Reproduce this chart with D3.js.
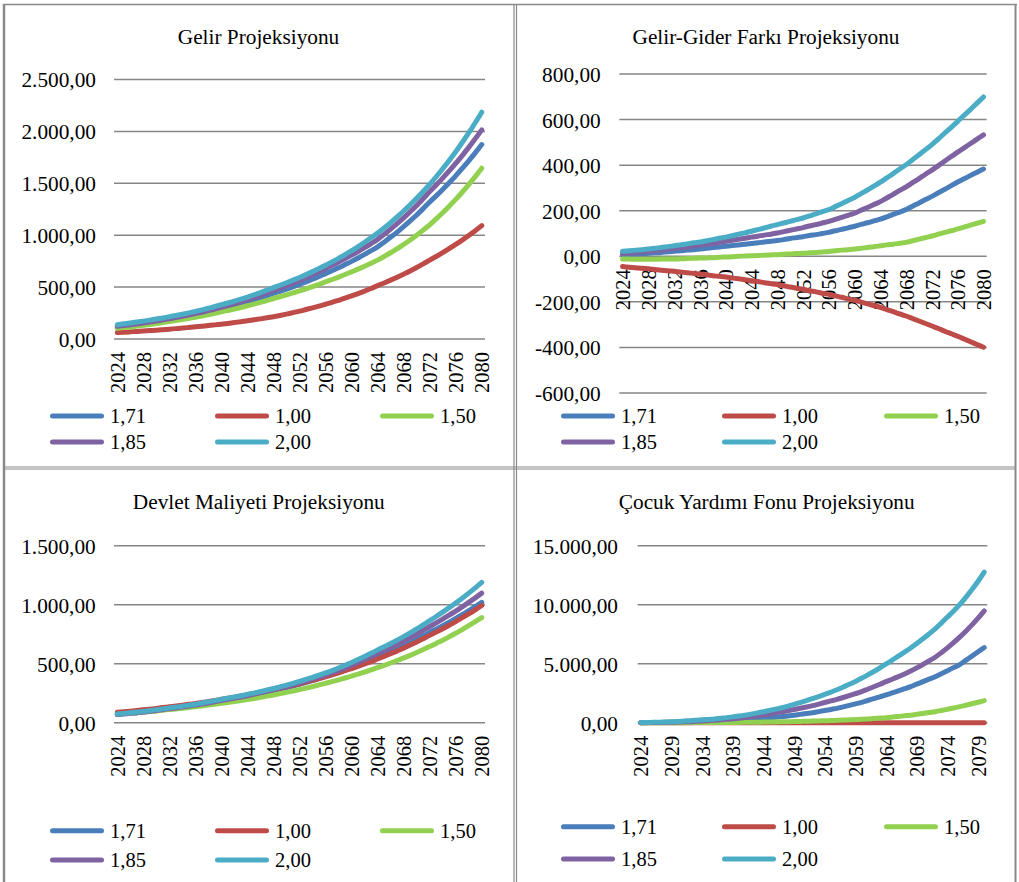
<!DOCTYPE html>
<html><head><meta charset="utf-8">
<script src="https://cdn.jsdelivr.net/npm/d3@7"></script>
<style>
html,body{margin:0;padding:0;background:#fff;}
svg{display:block;}
text{font-family:"Liberation Serif","Times New Roman",serif;fill:#000;}
</style>
</head><body>
<svg id="c" width="1019" height="882"></svg>
<script>
// ---------- DATA ----------
const years = d3.range(2024, 2081);
const seriesNames = ["1,71", "1,00", "1,50", "1,85", "2,00"];
const seriesColors = ["#4A7EBB", "#BE4B48", "#92D050", "#7F62A1", "#4BACC6"];

const titles = ["Gelir Projeksiyonu", "Gelir-Gider Farkı Projeksiyonu", "Devlet Maliyeti Projeksiyonu", "Çocuk Yardımı Fonu Projeksiyonu"];

const xTicks4 = ["2024","2028","2032","2036","2040","2044","2048","2052","2056","2060","2064","2068","2072","2076","2080"];
const xTicks5 = ["2024","2029","2034","2039","2044","2049","2054","2059","2064","2069","2074","2079"];

const yTicksGelir = [0, 500, 1000, 1500, 2000, 2500];
const yTicksFark = [-600, -400, -200, 0, 200, 400, 600, 800];
const yTicksMaliyet = [0, 500, 1000, 1500];
const yTicksFon = [0, 5000, 10000, 15000];

// Gelir Projeksiyonu
const gelir171 = [117,124,132,140,148,157,167,177,188,198,210,221,233,247,260,275,290,306,322,339,357,376,396,418,440,460,481,503,527,551,576,602,630,658,686,717,748,781,815,851,888,933,981,1030,1083,1138,1195,1256,1320,1379,1441,1505,1572,1643,1716,1793,1873];
const gelir100 = [62,65,69,73,77,81,85,90,95,100,105,111,117,123,129,136,143,150,158,167,175,185,194,204,215,227,240,254,268,284,300,317,335,353,373,393,415,438,462,487,514,540,567,595,625,656,689,724,760,795,832,871,911,953,997,1043,1092];
const gelir150 = [103,110,116,124,132,140,149,158,168,178,188,198,210,222,234,248,262,275,289,304,320,336,353,371,390,407,425,444,463,484,505,527,550,573,596,621,647,673,701,730,760,795,831,870,910,954,1000,1049,1100,1157,1217,1280,1345,1414,1487,1564,1645];
const gelir185 = [122,129,137,145,154,164,173,184,195,206,218,231,244,258,273,288,305,322,339,358,378,399,420,444,468,490,514,538,564,591,619,649,680,710,741,774,808,843,881,919,960,1008,1059,1112,1167,1226,1287,1352,1420,1484,1550,1619,1692,1767,1846,1929,2015];
const gelir200 = [138,146,154,163,172,182,193,203,215,227,239,252,266,281,296,313,330,347,365,384,404,425,447,471,495,518,542,567,593,620,649,679,710,743,777,813,851,890,932,975,1020,1069,1121,1176,1233,1293,1355,1421,1490,1563,1640,1720,1804,1893,1985,2083,2185];

// Gelir-Gider Farkı Projeksiyonu
const fark171 = [7,8,10,11,13,15,17,20,22,24,27,29,32,35,38,41,44,47,50,53,56,59,63,66,69,73,78,82,86,91,95,100,105,112,118,125,132,140,147,155,163,173,184,194,205,220,234,249,263,279,294,310,326,340,355,369,383];
const fark100 = [-45,-48,-50,-53,-55,-58,-61,-63,-66,-69,-72,-75,-78,-81,-85,-88,-91,-95,-99,-103,-107,-111,-116,-120,-124,-129,-135,-140,-145,-151,-156,-162,-167,-174,-180,-187,-193,-201,-209,-216,-224,-234,-243,-253,-262,-273,-284,-295,-306,-317,-329,-340,-351,-363,-375,-387,-399];
const fark150 = [-12,-12,-13,-13,-13,-13,-12,-12,-12,-11,-10,-9,-8,-7,-6,-4,-3,-2,0,1,2,3,5,6,7,9,10,12,13,15,17,19,21,24,27,29,32,35,39,42,46,50,53,57,61,68,75,82,89,97,105,112,120,128,137,145,153];
const fark185 = [12,14,16,19,21,24,28,31,34,38,41,45,49,53,57,62,66,70,75,79,84,88,93,97,102,108,114,120,126,133,139,146,153,162,171,180,189,202,214,227,240,256,272,289,305,323,341,360,378,398,418,438,457,476,495,514,533];
const fark200 = [22,24,27,29,32,35,39,42,46,50,54,59,63,68,73,79,84,90,97,103,110,117,124,132,139,146,153,161,168,177,186,196,205,218,231,245,258,275,291,308,325,344,363,383,402,424,446,468,490,515,541,566,592,619,645,672,699];

// Devlet Maliyeti Projeksiyonu
const maliyet171 = [70,75,79,85,90,96,102,109,116,123,130,138,146,154,163,173,183,192,202,212,223,234,246,259,272,285,298,311,326,341,356,373,390,408,426,445,465,486,508,531,555,578,601,626,652,678,706,735,765,793,822,852,883,915,949,983,1019];
const maliyet100 = [88,93,98,103,109,115,121,128,135,142,149,156,163,171,180,189,198,207,216,225,235,246,257,268,280,292,304,317,330,344,359,374,390,406,423,441,459,478,498,518,540,562,584,608,632,658,684,711,740,768,796,826,857,890,923,957,993];
const maliyet150 = [72,76,80,85,90,95,100,106,112,117,123,129,136,142,149,156,164,172,179,188,196,205,215,225,235,246,257,268,280,293,306,320,334,348,363,379,395,412,429,448,467,486,506,527,549,571,595,620,645,672,699,728,758,789,822,856,891];
const maliyet185 = [70,75,80,85,91,97,104,111,118,125,133,141,149,158,167,177,188,198,208,218,229,241,253,266,280,293,307,322,337,353,369,387,405,424,444,465,487,510,534,559,585,610,636,662,690,720,750,782,815,846,878,912,946,982,1020,1058,1098];
const maliyet200 = [74,79,84,90,96,103,110,117,125,132,140,149,157,167,177,187,198,208,218,228,240,251,264,277,290,304,318,334,350,367,384,403,422,442,464,487,510,535,561,588,617,644,671,700,730,762,795,829,865,900,937,975,1014,1055,1098,1143,1189];

// Çocuk Yardımı Fonu Projeksiyonu
const fon171 = [3,6,9,12,15,25,36,46,57,71,85,99,113,141,169,198,226,261,296,332,368,417,466,516,566,637,707,778,849,941,1033,1125,1217,1344,1471,1599,1726,1882,2038,2193,2349,2526,2703,2879,3056,3267,3478,3689,3900,4156,4412,4668,4924,5285,5646,6007,6368];
const fon100 = [0,0,0,0,0,0,0,0,0,0,0,0,0,0,0,0,0,0,0,0,0,0,0,0,0,0,0,0,0,0,0,0,0,0,0,0,0,0,0,0,0,0,0,0,0,0,0,0,0,0,0,0,0,0,0,0,0];
const fon150 = [0,1,2,2,3,4,4,5,6,7,9,10,12,15,18,22,25,31,37,43,50,58,67,76,85,97,110,122,135,150,166,182,198,220,244,267,290,322,356,390,425,475,530,585,640,710,785,860,934,1030,1135,1245,1358,1480,1605,1735,1868];
const fon185 = [5,10,16,22,28,41,55,70,85,112,140,169,198,240,282,325,368,437,508,579,651,740,830,924,1019,1122,1226,1333,1443,1575,1709,1844,1981,2136,2294,2459,2632,2836,3044,3258,3480,3685,3903,4133,4380,4647,4931,5232,5550,5933,6343,6782,7250,7753,8291,8866,9480];
const fon200 = [10,20,33,46,60,80,105,135,170,205,240,280,320,375,430,495,560,640,730,830,930,1040,1150,1270,1400,1550,1710,1870,2040,2215,2400,2590,2790,3020,3250,3500,3760,4050,4340,4650,4980,5300,5640,5980,6330,6710,7110,7520,7950,8440,8950,9460,10000,10620,11280,11990,12763];

// ---------- DRAWING ----------
const locale = d3.formatLocale({decimal: ",", thousands: ".", grouping: [3], currency: ["", ""], minus: "-"});
const fmt = locale.format(",.2f");

const svg = d3.select("#c");
const TITLE_FONT = 21.3, YTICK_FONT = 21.3, XTICK_FONT = 20.5, LEG_FONT = 20.5;

const panels = [
  {title: titles[0], series: [gelir171, gelir100, gelir150, gelir185, gelir200], yTicks: yTicksGelir,
   x0: 114, x1: 485, yTop: 79.5, yBot: 339, labelRight: 96, titleX: 258.5, titleY: 44,
   xLabels: xTicks4, legX: [50, 215, 380], legY: [416, 442]},
  {title: titles[1], series: [fark171, fark100, fark150, fark185, fark200], yTicks: yTicksFark,
   x0: 619.3, x1: 986.7, yTop: 74, yBot: 393, labelRight: 600.7, titleX: 766, titleY: 44,
   xLabels: xTicks4, legX: [561, 722, 884], legY: [416, 442]},
  {title: titles[2], series: [maliyet171, maliyet100, maliyet150, maliyet185, maliyet200], yTicks: yTicksMaliyet,
   x0: 114, x1: 485, yTop: 545.7, yBot: 722.7, labelRight: 95.7, titleX: 258.8, titleY: 509,
   xLabels: xTicks4, legX: [50, 215, 380], legY: [830.7, 860]},
  {title: titles[3], series: [fon171, fon100, fon150, fon185, fon200], yTicks: yTicksFon,
   x0: 637.7, x1: 987.3, yTop: 545.7, yBot: 722.7, labelRight: 618, titleX: 766.7, titleY: 509,
   xLabels: xTicks5, legX: [561, 722, 884], legY: [826.7, 859]}
];

// borders
const bc = "#8a8a8a";
svg.append("line").attr("x1", 4).attr("x2", 4).attr("y1", 4).attr("y2", 882).attr("stroke", bc).attr("stroke-width", 2.5);
svg.append("line").attr("x1", 3).attr("x2", 1017).attr("y1", 4.5).attr("y2", 4.5).attr("stroke", bc).attr("stroke-width", 1.5);
svg.append("line").attr("x1", 1015.5).attr("x2", 1015.5).attr("y1", 4).attr("y2", 882).attr("stroke", bc).attr("stroke-width", 2);
[514, 516.5].forEach(x => svg.append("line").attr("x1", x).attr("x2", x).attr("y1", 4).attr("y2", 882).attr("stroke", bc).attr("stroke-width", 1.2));
[467, 469].forEach(y => svg.append("line").attr("x1", 4).attr("x2", 1016).attr("y1", y).attr("y2", y).attr("stroke", bc).attr("stroke-width", 1.2));

panels.forEach(p => {
  const g = svg.append("g");
  const x = d3.scalePoint().domain(years).range([p.x0, p.x1]).padding(0.5);
  const yMin = d3.min(p.yTicks), yMax = d3.max(p.yTicks);
  const y = d3.scaleLinear().domain([yMin, yMax]).range([p.yBot, p.yTop]);

  // title
  g.append("text").attr("x", p.titleX).attr("y", p.titleY).attr("text-anchor", "middle")
    .style("font-size", TITLE_FONT + "px").text(p.title);

  // gridlines
  g.append("g").selectAll("line").data(p.yTicks).join("line")
    .attr("x1", p.x0).attr("x2", p.x1)
    .attr("y1", d => y(d)).attr("y2", d => y(d))
    .attr("stroke", "#868686").attr("stroke-width", 1.5);

  // y-axis labels
  const yAxis = d3.axisLeft(y).tickValues(p.yTicks).tickFormat(fmt).tickSize(0).tickPadding(0);
  const ya = g.append("g").attr("transform", `translate(${p.labelRight},0)`).call(yAxis);
  ya.attr("font-family", null).attr("font-size", null);
  ya.select(".domain").remove();
  ya.selectAll("text").style("font-size", YTICK_FONT + "px").attr("dy", "0.35em").attr("x", 0);

  // x-axis labels (rotated)
  const y0 = y(Math.max(0, yMin));
  const xAxis = d3.axisBottom(x).tickValues(p.xLabels.map(Number)).tickSize(0).tickPadding(0);
  const xa = g.append("g").attr("transform", `translate(0,${y0 + 13})`).call(xAxis);
  xa.attr("font-family", null).attr("font-size", null);
  xa.select(".domain").remove();
  xa.selectAll("text").style("font-size", XTICK_FONT + "px")
    .attr("transform", "rotate(-90)").attr("text-anchor", "end")
    .attr("x", 0).attr("y", 0).attr("dy", "0.35em");

  // series lines
  const line = d3.line().x((d, i) => x(years[i])).y(d => y(d)).curve(d3.curveMonotoneX);
  p.series.forEach((s, i) => {
    g.append("path").datum(s).attr("d", line).attr("fill", "none")
      .attr("stroke", seriesColors[i]).attr("stroke-width", 5)
      .attr("stroke-linecap", "round").attr("stroke-linejoin", "round");
  });

  // legend
  const order = [[0, 0, 0], [1, 1, 0], [2, 2, 0], [3, 0, 1], [4, 1, 1]];
  order.forEach(([si, col, row]) => {
    const lx = p.legX[col], ly = p.legY[row];
    g.append("line").attr("x1", lx + 2.5).attr("x2", lx + 51.5).attr("y1", ly).attr("y2", ly)
      .attr("stroke", seriesColors[si]).attr("stroke-width", 5).attr("stroke-linecap", "round");
    g.append("text").attr("x", lx + 60).attr("y", ly).attr("dy", "0.35em")
      .style("font-size", LEG_FONT + "px").text(seriesNames[si]);
  });
});
</script>
</body></html>
